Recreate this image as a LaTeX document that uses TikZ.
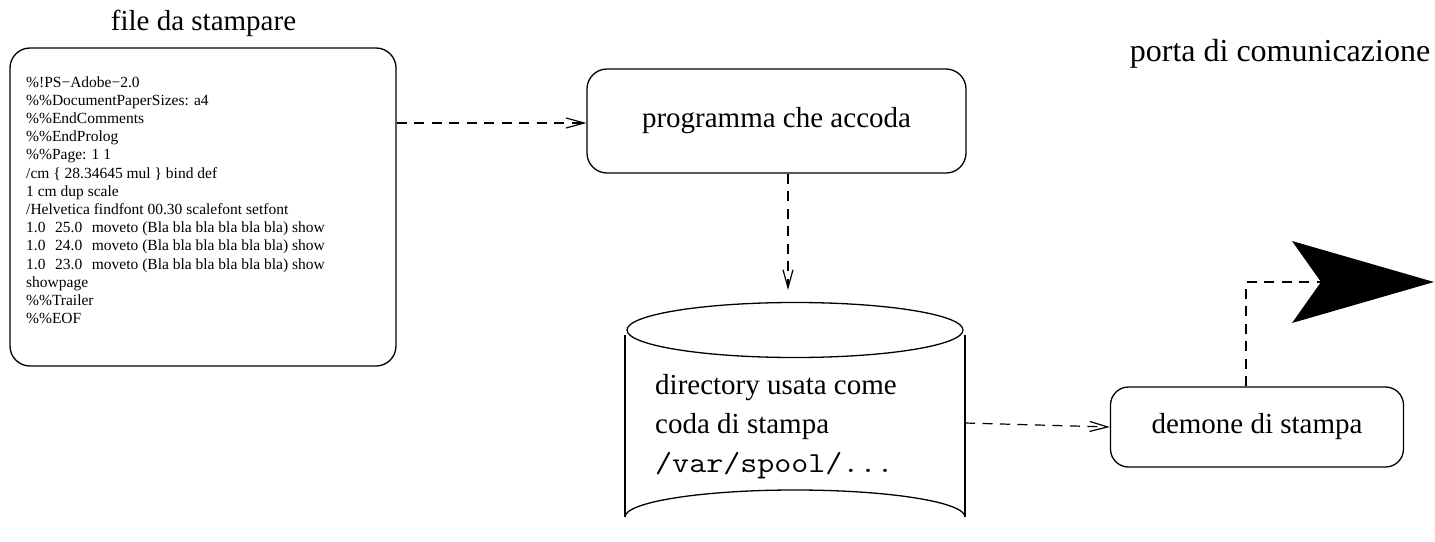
\documentclass[tikz,border=0pt]{standalone}
\usepackage{fontspec}
\usepackage{graphicx}
\setmainfont{Liberation Serif}
\usetikzlibrary{arrows.meta}
\newcommand\lblfont{\fontsize{29}{39}\selectfont}
\newcommand\srcfont{\fontsize{15.5}{18.2}\selectfont}
\newcommand\dblsp{\hspace{0.62em}}
\tikzset{
  box/.style={draw, line width=1.3pt, rounded corners=20pt, inner sep=0pt, font=\lblfont},
  conn/.style={line width=1.2pt, dash pattern=on 10pt off 7.5pt, -{Straight Barb[length=18pt,width=10pt,line width=1.2pt]}},
  link/.style={line width=1.2pt, dash pattern=on 10pt off 7.5pt},
  outline/.style={line width=1.3pt},
  txt/.style={inner sep=0pt, anchor=base west},
}
\begin{document}
\begin{tikzpicture}[x=1pt, y=-1pt]
\useasboundingbox (0,0) rectangle (1435,541);
\clip (0,0) rectangle (1435,541);

% PostScript file to be printed
\node[box, minimum width=386pt, minimum height=318pt] (file) at (203,207) {};
\node[inner sep=0pt, anchor=base, font=\lblfont] (filetitle) at (203.5,30) {file da stampare};
\node[txt, font=\srcfont] (src) at (26,87) {\begin{tabular}[t]{@{}l@{}}
\%!PS−Adobe−2.0\\
\%\%DocumentPaperSizes: a4\\
\%\%EndComments\\
\%\%EndProlog\\
\%\%Page: 1 1\\
/cm \{ 28.34645 mul \} bind def\\
1 cm dup scale\\
/Helvetica findfont 00.30 scalefont setfont\\
1.0\dblsp 25.0\dblsp moveto (Bla bla bla bla bla bla) show\\
1.0\dblsp 24.0\dblsp moveto (Bla bla bla bla bla bla) show\\
1.0\dblsp 23.0\dblsp moveto (Bla bla bla bla bla bla) show\\
showpage\\
\%\%Trailer\\
\%\%EOF
\end{tabular}};

% queueing program
\node[box, minimum width=379pt, minimum height=104pt] (prog) at (776.5,121) {programma che accoda};

% spool directory (cylinder)
\coordinate (qin) at (788,290);
\coordinate (cylR) at (965,423);
\draw[outline] (795,330) ellipse [x radius=168, y radius=27.5];
\draw[outline] (625,335) -- (625,517);
\draw[outline] (965,335) -- (965,517);
\draw[outline] (625,517) arc [start angle=180, end angle=360, x radius=170, y radius=27];
\node[txt, font=\lblfont] (spool) at (655,394) {\begin{tabular}[t]{@{}l@{}}
directory usata come\\
coda di stampa\\
\scalebox{1.14}[1]{\ttfamily /var/spool/...}
\end{tabular}};

% print daemon
\node[box, rounded corners=18pt, minimum width=293pt, minimum height=80pt] (dem) at (1257,427) {demone di stampa};

% communication port
\coordinate (notch) at (1321,282);
\coordinate (up) at (1246,282);
\fill (1292,241) -- (1434,282) -- (1292,323) -- (notch) -- cycle;
\node[inner sep=0pt, anchor=base, font=\fontsize{32}{38}\selectfont] (porttitle) at (1280,61) {porta di comunicazione};

% connectors
\draw[conn] (file.east |- 0,123) -- (prog.west |- 0,123);
\draw[conn] (prog.south -| qin) -- (qin);
\draw[conn] (cylR) -- (dem.west);
\draw[link] (dem.north -| up) -- (up) -- (notch);
\end{tikzpicture}
\end{document}
